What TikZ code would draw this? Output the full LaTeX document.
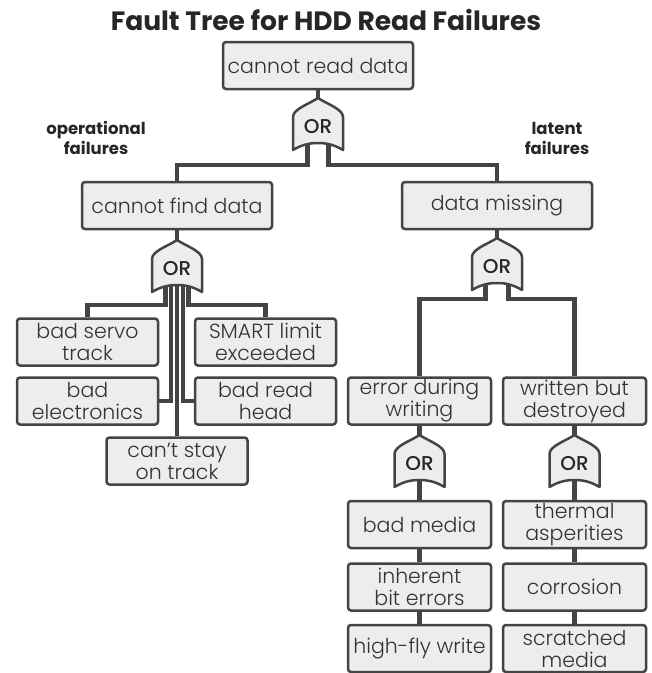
\documentclass[tikz,border=0pt]{standalone}
\usepackage{fontspec}
\setmainfont{Poppins}[UprightFont={* Light},BoldFont={* Bold}]
\newfontfamily\gatefont{Poppins}[UprightFont={* Medium}]
\usetikzlibrary{backgrounds}
\definecolor{inkgray}{HTML}{444444}
\definecolor{boxgray}{HTML}{EDEDED}
\definecolor{textgray}{HTML}{333333}
\tikzset{
  event/.style={draw=inkgray, line width=2.5pt, fill=boxgray, rounded corners=3pt,
    minimum height=47pt, inner sep=0pt, align=center, text=textgray,
    font=\fontsize{20.5}{22}\selectfont},
  wide/.style={event, minimum width=190pt},
  leaf/.style={event, minimum width=141pt},
  cell/.style={event, minimum width=143pt},
  link/.style={draw=inkgray, line width=4.5pt},
  sidenote/.style={align=center, text=black!85, font=\bfseries\fontsize{16.5}{20}\selectfont},
  % pic is drawn with y pointing up
  orgate/.pic={
    \draw[draw=inkgray, line width=2.5pt, fill=boxgray, line join=round]
      (-25,-22) -- (-25,11) .. controls (-25,19) and (-9,24) .. (0,30)
      .. controls (9,24) and (25,19) .. (25,11) -- (25,-22)
      .. controls (15,-16) and (7,-15) .. (0,-15) .. controls (-7,-15) and (-15,-16) .. (-25,-22) -- cycle;
    \node[text=black!85, font=\gatefont\fontsize{20}{20}\selectfont] at (0,1) {OR};
  }
}
\begin{document}
\begin{tikzpicture}[x=1pt,y=1pt,yscale=-1,xscale=1]
\useasboundingbox (0,0) rectangle (652,673);

% Title
\node[text=black!85, font=\bfseries\fontsize{26.5}{26.5}\selectfont] (title) at (326,20) {Fault Tree for HDD Read Failures};

% Side notes
\node[sidenote] (opnote) at (96,138) {operational\\failures};
\node[sidenote] (latnote) at (557,138) {latent\\failures};

% Events, top and middle
\node[wide] (top) at (318,65.5) {cannot read data};
\node[wide] (find) at (177,205.5) {cannot find data};
\node[wide] (miss) at (497,205.5) {data missing};

% Operational branch
\node[leaf] (servo) at (87.5,342) {bad servo\\track};
\node[leaf] (smart) at (265.5,342) {SMART limit\\exceeded};
\node[leaf] (elec) at (87.5,401) {bad\\electronics};
\node[leaf] (head) at (265.5,401) {bad read\\head};
\node[leaf] (stay) at (177,461) {can’t stay\\on track};

% Latent branch
\node[cell] (write) at (419.5,401) {error during\\writing};
\node[cell] (destroy) at (574.5,401) {written but\\destroyed};
\node[cell] (media) at (419.5,524.5) {bad media};
\node[cell] (biterr) at (419.5,587) {inherent\\bit errors};
\node[cell] (highfly) at (419.5,648.5) {high-fly write};
\node[cell] (thermal) at (574.5,524.5) {thermal\\asperities};
\node[cell] (corros) at (574.5,587) {corrosion};
\node[cell] (scratch) at (574.5,648.5) {scratched\\media};

% Gates
\coordinate (g1) at (318,128);
\coordinate (g2) at (177,270);
\coordinate (g3) at (497,268);
\coordinate (g4) at (419.5,465);
\coordinate (g5) at (574.5,465);
\pic at (g1) {orgate};
\pic at (g2) {orgate};
\pic at (g3) {orgate};
\pic at (g4) {orgate};
\pic at (g5) {orgate};

% Connectors
\begin{scope}[on background layer]
\draw[link] (top.south) -- (g1);
\draw[link] ([xshift=-10.5pt]g1) -- ++(0,37) -| (find.north);
\draw[link] ([xshift=10.5pt]g1) -- ++(0,37) -| (miss.north);
\draw[link] (find.south) -- (g2);
\draw[link] ([xshift=-11.5pt]g2) -- ++(0,35) -| (servo.north);
\draw[link] ([xshift=11.5pt]g2) -- ++(0,35) -| (smart.north);
\draw[link] ([xshift=-6pt]g2) |- (elec.east);
\draw[link] ([xshift=6pt]g2) |- (head.west);
\draw[link] (g2) -- (stay.north);
\draw[link] (miss.south) -- (g3);
\draw[link] ([xshift=-11.5pt]g3) -- ++(0,31) -| (write.north);
\draw[link] ([xshift=11.5pt]g3) -- ++(0,31) -| (destroy.north);
\draw[link] (write.south) -- (g4);
\draw[link] (destroy.south) -- (g5);
\draw[link] (g4) -- (media.north);
\draw[link] (media.south) -- (biterr.north);
\draw[link] (biterr.south) -- (highfly.north);
\draw[link] (g5) -- (thermal.north);
\draw[link] (thermal.south) -- (corros.north);
\draw[link] (corros.south) -- (scratch.north);
\end{scope}
\end{tikzpicture}
\end{document}
